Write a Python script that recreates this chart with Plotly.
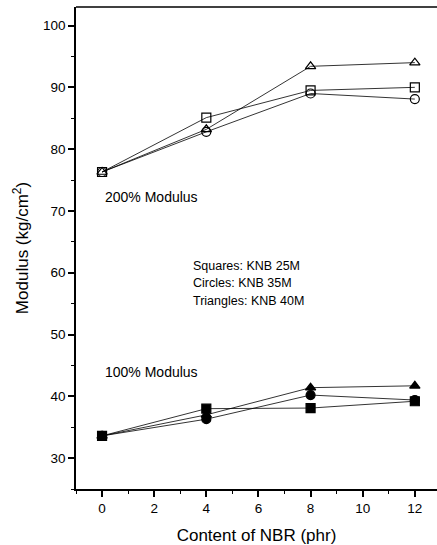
import plotly.graph_objects as go

nbr = [0, 4, 8, 12]
m200_squares = [76.3, 85.1, 89.5, 90.0]
m200_circles = [76.3, 82.8, 89.0, 88.1]
m200_triangles = [76.3, 83.2, 93.4, 94.0]
m100_squares = [33.6, 38.0, 38.1, 39.2]
m100_circles = [33.6, 36.3, 40.2, 39.4]
m100_triangles = [33.6, 37.0, 41.4, 41.7]

series = [
    (m200_squares, "square-open"),
    (m200_circles, "circle-open"),
    (m200_triangles, "triangle-up-open"),
    (m100_squares, "square"),
    (m100_circles, "circle"),
    (m100_triangles, "triangle-up"),
]

fig = go.Figure()
for vals, sym in series:
    fig.add_trace(go.Scatter(
        x=nbr, y=vals, mode="lines+markers",
        line=dict(color="black", width=0.8),
        marker=dict(symbol=sym, size=9, color="black",
                    line=dict(color="black", width=1.2)),
        showlegend=False,
    ))

font = "Liberation Sans, Arial, sans-serif"
annots = [
    (0.05, 72.2, "200% Modulus", 14),
    (0.05, 43.9, "100% Modulus", 14),
    (3.4, 61.1, "Squares: KNB 25M", 12.5),
    (3.4, 58.3, "Circles: KNB 35M", 12.5),
    (3.4, 55.5, "Triangles: KNB 40M", 12.5),
]
for x, y, t, s in annots:
    fig.add_annotation(x=x, y=y, text=t, showarrow=False, xanchor="left",
                       yanchor="middle", font=dict(family=font, size=s, color="black"))

fig.add_shape(type="line", xref="paper", yref="paper", x0=0, x1=1, y0=1, y1=1,
              line=dict(color="black", width=1.5))

fig.update_xaxes(
    range=[-1, 12.85], tickvals=[0, 2, 4, 6, 8, 10, 12],
    ticks="outside", ticklen=6, tickwidth=1.5, tickcolor="black",
    minor=dict(dtick=1, tick0=0, ticks="outside", ticklen=3, tickcolor="black", tickwidth=1),
    showline=True, linecolor="black", linewidth=1.5, showgrid=False, zeroline=False,
    tickfont=dict(family=font, size=13.5, color="black"),
    title=dict(text="Content of NBR (phr)", font=dict(family=font, size=17, color="black"), standoff=14),
)
fig.update_yaxes(
    range=[25, 103], tickvals=[30, 40, 50, 60, 70, 80, 90, 100],
    ticks="outside", ticklen=6, tickwidth=1.5, tickcolor="black",
    minor=dict(dtick=5, tick0=0, ticks="outside", ticklen=3, tickcolor="black", tickwidth=1),
    showline=True, linecolor="black", linewidth=1.5, showgrid=False, zeroline=False,
    tickfont=dict(family=font, size=13.5, color="black"),
    title=dict(text="Modulus (kg/cm<sup>2</sup>)", font=dict(family=font, size=17, color="black"), standoff=10),
)
fig.update_layout(
    width=437, height=545, margin=dict(l=76, r=0, t=7, b=56),
    plot_bgcolor="white", paper_bgcolor="white",
)
fig.write_html("out.html")
